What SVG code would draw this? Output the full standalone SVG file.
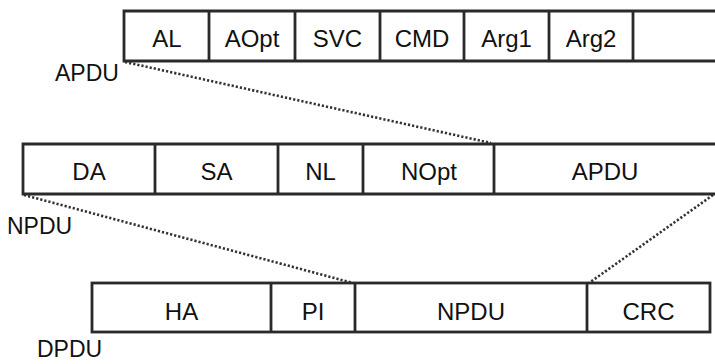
<svg xmlns="http://www.w3.org/2000/svg" width="715" height="364" viewBox="0 0 715 364">
<style>
.box{fill:#fff;stroke:#2a2a2a;stroke-width:2.8}
.ln{stroke:#2a2a2a;stroke-width:2.8;fill:none}
.t{font-family:"Liberation Sans",Arial,sans-serif;font-size:24px;fill:#111;text-anchor:middle}
.lbl{font-family:"Liberation Sans",Arial,sans-serif;font-size:23px;fill:#111}
.dot{stroke:#333;stroke-width:2.6;fill:none;stroke-dasharray:2.2 2}
</style>
<rect width="715" height="364" fill="#fff"/>
<g id="connectors">
<line class="dot" x1="125" y1="62" x2="491" y2="143"/>
<line class="dot" x1="24" y1="195" x2="353" y2="283"/>
<line class="dot" x1="713" y1="195" x2="589" y2="283"/>
</g>
<g id="apdu-row">
<path class="ln" d="M715 11 H124 V61 H715"/>
<path class="ln" d="M209 11 V61 M295 11 V61 M380 11 V61 M464 11 V61 M549 11 V61 M633 11 V61"/>
<text class="t" x="167" y="47">AL</text>
<text class="t" x="252" y="47">AOpt</text>
<text class="t" x="337.5" y="47">SVC</text>
<text class="t" x="422" y="47">CMD</text>
<text class="t" x="506.5" y="47">Arg1</text>
<text class="t" x="591" y="47">Arg2</text>
</g>
<g id="apdu-label"><text class="lbl" x="55" y="81">APDU</text></g>
<g id="npdu-row">
<path class="ln" d="M715 144 H23 V194 H715"/>
<path class="ln" d="M155 144 V194 M278 144 V194 M363 144 V194 M494 144 V194"/>
<text class="t" x="89" y="180">DA</text>
<text class="t" x="216.5" y="180">SA</text>
<text class="t" x="320.5" y="180">NL</text>
<text class="t" x="429" y="180">NOpt</text>
<text class="t" x="605" y="180">APDU</text>
</g>
<g id="npdu-label"><text class="lbl" x="7" y="234">NPDU</text></g>
<g id="dpdu-row">
<rect class="box" x="92" y="283" width="618" height="49"/>
<path class="ln" d="M271 283 V332 M355 283 V332 M587 283 V332"/>
<text class="t" x="181.5" y="320">HA</text>
<text class="t" x="313" y="320">PI</text>
<text class="t" x="471" y="320">NPDU</text>
<text class="t" x="648.5" y="320">CRC</text>
</g>
<g id="dpdu-label"><text class="lbl" x="37" y="357">DPDU</text></g>
</svg>
